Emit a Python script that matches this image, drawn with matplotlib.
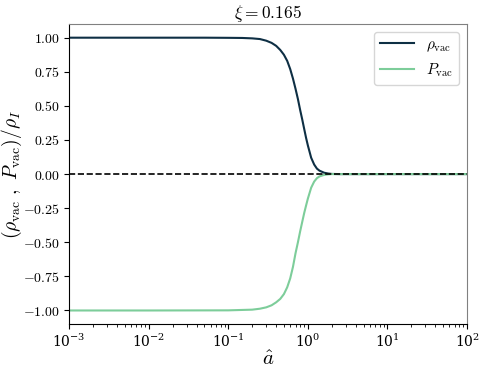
#!/usr/bin/env python3
# -*- coding: utf-8 -*-

import matplotlib
matplotlib.use("Agg")
import matplotlib.pyplot as plt
from matplotlib.ticker import FuncFormatter, LogLocator

# ----------------------------
# Data
# ----------------------------

a_rho = [1e-3, 1e-2, 0.05, 0.1, 0.15, 0.2, 0.25, 0.3, 0.35, 0.4, 0.45, 0.5,
         0.55, 0.6, 0.65, 0.7, 0.75, 0.8, 0.85, 0.9, 0.95, 1.0, 1.1, 1.2,
         1.3, 1.4, 1.6, 1.8, 2.0, 2.5, 10.0, 100.0]
rho_vac = [1.0, 1.0, 1.0, 0.999, 0.998, 0.995, 0.99, 0.978, 0.962, 0.94,
           0.91, 0.875, 0.83, 0.77, 0.70, 0.625, 0.55, 0.47, 0.40, 0.33,
           0.265, 0.21, 0.12, 0.07, 0.04, 0.025, 0.01, 0.004, 0.001, 0.0,
           0.0, 0.0]

a_p = [1e-3, 1e-2, 0.1, 0.2, 0.25, 0.3, 0.35, 0.4, 0.45, 0.5, 0.55, 0.6,
       0.65, 0.7, 0.75, 0.8, 0.85, 0.9, 0.95, 1.0, 1.1, 1.2, 1.3, 1.4, 1.6,
       1.8, 2.0, 10.0, 100.0]
p_vac = [-1.0, -1.0, -0.999, -0.994, -0.987, -0.977, -0.962, -0.94, -0.915,
         -0.88, -0.83, -0.765, -0.68, -0.58, -0.50, -0.42, -0.35, -0.285,
         -0.23, -0.18, -0.10, -0.055, -0.03, -0.017, -0.006, -0.002, 0.0,
         0.0, 0.0]

xi = 0.165
y_ticks = [-1.0, -0.75, -0.5, -0.25, 0.0, 0.25, 0.5, 0.75, 1.0]

# ----------------------------
# Plotting
# ----------------------------

plt.rcParams["mathtext.fontset"] = "cm"
plt.rcParams["font.family"] = ["DejaVu Serif"]

fig, ax = plt.subplots(figsize=(4.83, 3.70), dpi=100)

ax.plot(a_rho, rho_vac, color="#0e2f44", lw=1.5, label=r"$\rho_{\rm vac}$")
ax.plot(a_p, p_vac, color="#7dcd9a", lw=1.5, label=r"$P_{\rm vac}$")
ax.axhline(0.0, color="black", ls="--", lw=1.2, zorder=3)

ax.set_xscale("log")
ax.set_xlim(1e-3, 1e2)
ax.set_ylim(-1.1, 1.1)
ax.set_yticks(y_ticks)
ax.yaxis.set_major_formatter(FuncFormatter(lambda v, _: f"${v:.2f}$"))
ax.xaxis.set_minor_locator(LogLocator(base=10, subs=range(2, 10), numticks=20))
ax.tick_params(labelsize=10, pad=3)

for side in ("top", "right"):
    ax.spines[side].set_color("#808080")

ax.set_title(rf"$\xi = {xi}$", fontsize=12.5, pad=4)
ax.set_xlabel(r"$\hat{a}$", fontsize=15, labelpad=0)
ax.set_ylabel(r"$(\rho_{\rm vac}\ ,\ P_{\rm vac})/\rho_I$", fontsize=14)
ax.yaxis.set_label_coords(-0.113, 0.5)
ax.legend(loc="upper right", fontsize=11, handlelength=2.2)

fig.subplots_adjust(left=0.143, right=0.967, top=0.935, bottom=0.124)
fig.savefig("out.png")
